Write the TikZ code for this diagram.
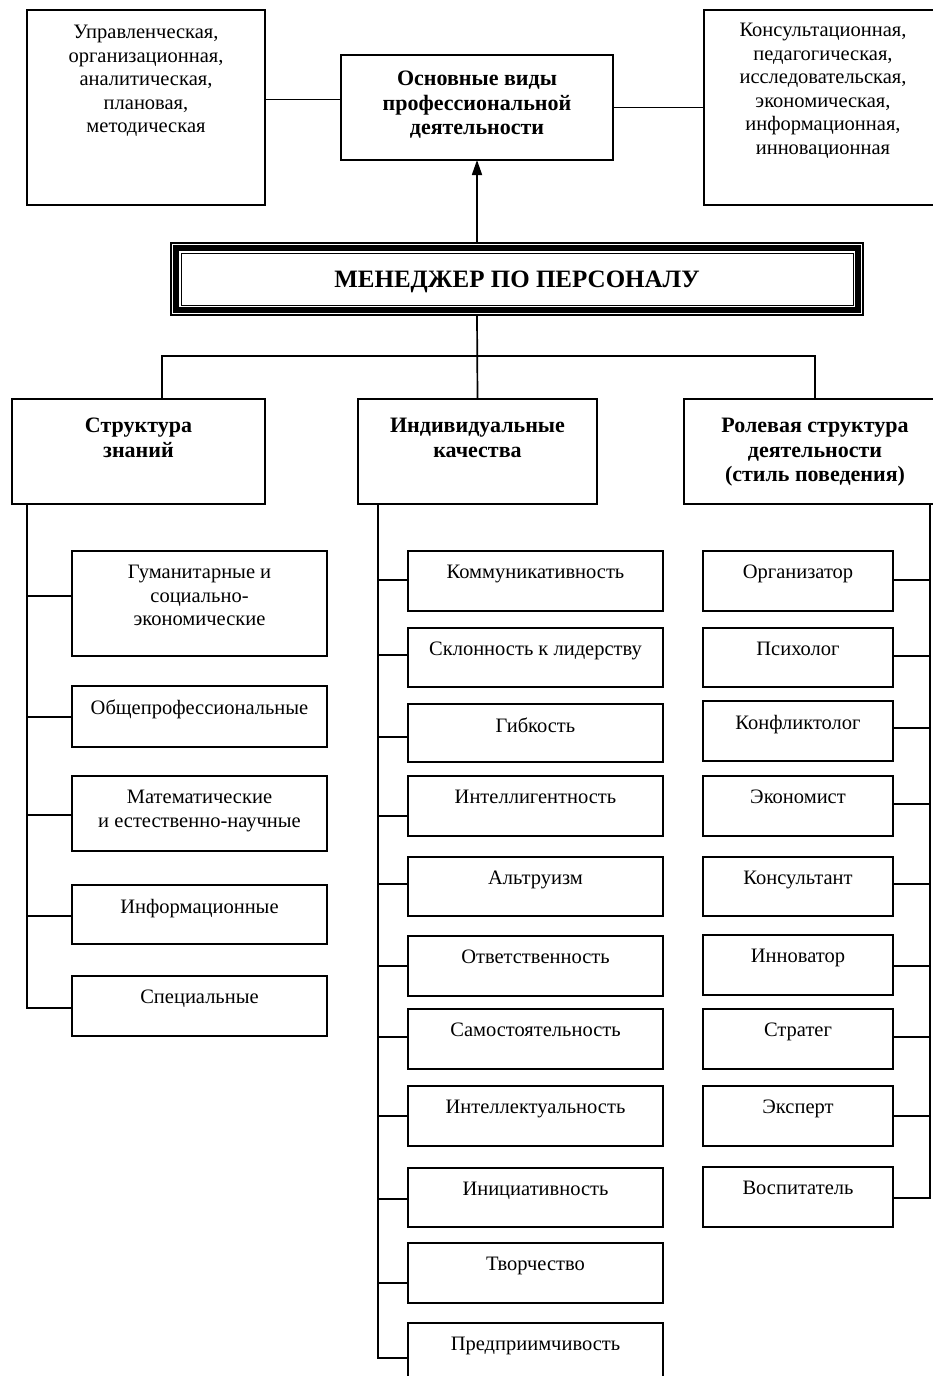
\documentclass[tikz,border=0pt]{standalone}
\usepackage{fontspec}
\setmainfont{Liberation Serif}
\usetikzlibrary{arrows.meta}
\begin{document}
\begin{tikzpicture}[x=1pt,y=-1pt,
  box/.style={draw, line width=1.7pt, inner sep=0pt, outer sep=0pt, fill=white},
  txt/.style={inner sep=0pt, align=center, font=\fontsize{20.5}{23.5}\selectfont},
  btxt/.style={inner sep=0pt, align=center, font=\fontsize{22}{24.5}\selectfont\bfseries},
  conn/.style={line width=1.7pt}]
\useasboundingbox (0,0) rectangle (933,1376);
\clip (0,0) rectangle (933,1376);

% ---------- top row ----------
\node[box, minimum width=238, minimum height=195, anchor=north west] (tl) at (27,10) {};
\node[txt, anchor=north] (tlt) at ([yshift=-15]tl.north) {Управленческая,\\организационная,\\аналитическая,\\плановая,\\методическая};
\node[box, minimum width=272, minimum height=105, anchor=north west] (osn) at (341,55) {};
\node[btxt, anchor=north] (osnt) at ([yshift=-16]osn.north) {Основные виды\\профессиональной\\деятельности};
\node[box, minimum width=238, minimum height=195, anchor=north west] (tr) at (704,10) {};
\node[txt, anchor=north] (trt) at ([yshift=-13]tr.north) {Консультационная,\\педагогическая,\\исследовательская,\\экономическая,\\информационная,\\инновационная};
\draw[conn] ([yshift=8]tl.east) -- ([yshift=8]osn.west);
\draw[conn] (osn.east) -- (tr.west);

% ---------- manager ----------
\node[box, minimum width=692, minimum height=72] (mgr) at (517,279) {};
\draw[line width=5.5pt] ([xshift=5,yshift=-5]mgr.north west) rectangle ([xshift=-5,yshift=5]mgr.south east);
\draw[line width=1pt] ([xshift=10,yshift=-10]mgr.north west) rectangle ([xshift=-10,yshift=10]mgr.south east);
\node[btxt, anchor=base, font=\fontsize{25}{27}\selectfont\bfseries] (mgrt) at ([yshift=-8.5]mgr.center) {МЕНЕДЖЕР ПО ПЕРСОНАЛУ};
\draw[conn, -{Triangle[length=15pt,width=10pt]}] (mgr.north -| osn.south) -- (osn.south);

% ---------- headings ----------
\node[box, minimum width=253, minimum height=105, anchor=north west] (h1) at (12,399) {};
\node[btxt, anchor=north] (h1t) at ([yshift=-19]h1.north) {Структура\\знаний};
\node[box, minimum width=239, minimum height=105, anchor=north west] (h2) at (358,399) {};
\node[btxt, anchor=north] (h2t) at ([yshift=-19]h2.north) {Индивидуальные\\качества};
\node[box, minimum width=262, minimum height=105, anchor=north west] (h3) at (684,399) {};
\node[btxt, anchor=north] (h3t) at ([yshift=-19]h3.north) {Ролевая структура\\деятельности\\(стиль поведения)};

\coordinate (bus) at (477,356);
\draw[conn] (mgr.south -| osn.south) -- (h2.north);
\draw[conn] ([xshift=23.5]h1.north) |- (bus) -| (h3.north);

\coordinate (lv) at ([xshift=15]h1.south west);
\coordinate (mv) at ([xshift=20]h2.south west);
\coordinate (rv) at ([xshift=-16]h3.south east);

% ---------- left column ----------
\foreach \n/\t/\a/\b/\k in {
  L1/{Гуманитарные и\\социально-\\экономические}/551/656/596,
  L2/{Общепрофессиональные}/686/747/717,
  L3/{Математические\\и естественно-научные}/776/851/815,
  L4/{Информационные}/885/944/916,
  L5/{Специальные}/976/1036/1008}{
  \node[box, minimum width=255, minimum height={\b-\a}, anchor=north west] (\n) at (72,\a) {};
  \node[txt, anchor=north] (\n-t) at ([yshift=-14]\n.north) {\t};
  \draw[conn] ([yshift={(\a+\b)/2-\k}]\n.west) -| (lv);
}

% ---------- middle column ----------
\foreach \n/\t/\a/\b/\k in {
  M1/{Коммуникативность}/551/611/580,
  M2/{Склонность к лидерству}/628/687/655,
  M3/{Гибкость}/704/762/737,
  M4/{Интеллигентность}/776/836/816,
  M5/{Альтруизм}/857/916/884,
  M6/{Ответственность}/936/996/966,
  M7/{Самостоятельность}/1009/1069/1037,
  M8/{Интеллектуальность}/1086/1146/1116,
  M9/{Инициативность}/1168/1227/1199,
  M10/{Творчество}/1243/1303/1283,
  M11/{Предприимчивость}/1323/1383/1358}{
  \node[box, minimum width=255, minimum height={\b-\a}, anchor=north west] (\n) at (408,\a) {};
  \node[txt, anchor=north] (\n-t) at ([yshift=-14]\n.north) {\t};
  \draw[conn] ([yshift={(\a+\b)/2-\k}]\n.west) -| (mv);
}

% ---------- right column ----------
\foreach \n/\t/\a/\b/\k in {
  R1/{Организатор}/551/611/580,
  R2/{Психолог}/628/687/656,
  R3/{Конфликтолог}/701/761/728,
  R4/{Экономист}/776/836/804,
  R5/{Консультант}/857/916/884,
  R6/{Инноватор}/935/995/966,
  R7/{Стратег}/1009/1069/1037,
  R8/{Эксперт}/1086/1146/1116,
  R9/{Воспитатель}/1167/1227/1198}{
  \node[box, minimum width=190, minimum height={\b-\a}, anchor=north west] (\n) at (703,\a) {};
  \node[txt, anchor=north] (\n-t) at ([yshift=-14]\n.north) {\t};
  \draw[conn] ([yshift={(\a+\b)/2-\k}]\n.east) -| (rv);
}
\end{tikzpicture}
\end{document}
